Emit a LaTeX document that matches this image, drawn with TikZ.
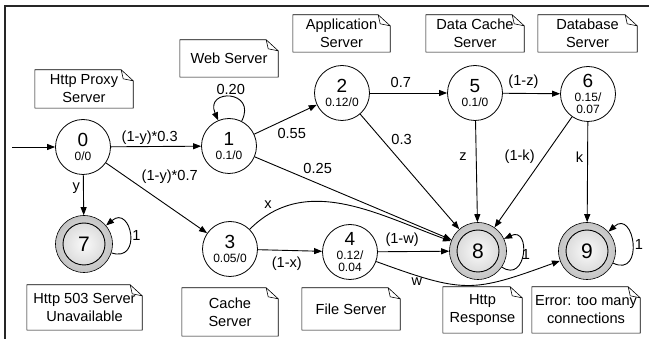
\documentclass[tikz,border=0pt]{standalone}
\usepackage{fontspec}
\setmainfont{Liberation Sans}
\usetikzlibrary{arrows.meta,positioning,calc}
\definecolor{framegray}{HTML}{262626}
\definecolor{ringgray}{HTML}{C4C4C4}

\newcommand{\bignum}{\fontsize{19}{19}\selectfont}
\newcommand{\bigfin}{\fontsize{21}{21}\selectfont}
\newcommand{\smallnum}{\fontsize{12}{13}\selectfont}

\tikzset{
  state/.style={circle, draw, line width=0.8pt, minimum size=55pt, inner sep=0pt, align=center},
  final/.style={circle, draw, line width=0.6pt, minimum size=57pt, inner sep=0pt,
    inner color=gray!15, outer color=ringgray,
    path picture={\shade[draw, line width=0.9pt, inner color=gray!4, outer color=gray!36]
      (path picture bounding box.center) circle (21pt);}},
  note/.style={minimum width=98pt, minimum height=37pt, inner sep=0pt, align=center,
    font=\fontsize{14.6}{18}\selectfont},
  notebox/.style={line width=0.6pt},
  trans/.style={-{Triangle[length=8pt,width=6pt]}, line width=0.9pt},
  lbl/.style={font=\fontsize{14.6}{16}\selectfont, inner sep=2pt},
}

\begin{document}
\begin{tikzpicture}[x=1pt, y=1pt]
    \useasboundingbox (0,0) rectangle (649,-339);
    \draw[line width=1.5pt, framegray] (5,-339) -- (5,-6) -- (649,-6);

    % states
    \node[state] (n0) at (83,-147) {\bignum 0\\[2pt]\smallnum 0/0};
    \node[state] (n1) at (229,-146) {\bignum 1\\[2pt]\smallnum 0.1/0};
    \node[state] (n2) at (342,-93) {\bignum 2\\[2pt]\smallnum 0.12/0};
    \node[state] (n5) at (475,-93) {\bignum 5\\[2pt]\smallnum 0.1/0};
    \node[state] (n6) at (588,-94) {\bignum 6\\[2pt]\smallnum 0.15/\\\smallnum 0.07};
    \node[state] (n3) at (230,-249) {\bignum 3\\[2pt]\smallnum 0.05/0};
    \node[state] (n4) at (350,-252) {\bignum 4\\[2pt]\smallnum 0.12/\\\smallnum 0.04};
    \node[final] (n7) at (84,-244) {\bigfin 7};
    \node[final] (n8) at (478,-251) {\bigfin 8};
    \node[final] (n9) at (587,-251) {\bigfin 9};

    % notes
    \node[note, minimum height=38pt] (tproxy) at (84,-89) {Http Proxy\\Server};
    \node[note] (tweb) at (229,-58.5) {Web Server};
    \node[note, minimum width=97pt] (tapp) at (341.5,-33.5) {Application\\Server};
    \node[note] (tdcache) at (475,-33.5) {Data Cache\\Server};
    \node[note, minimum width=99pt] (tdb) at (587.5,-33.5) {Database\\Server};
    \node[note, minimum width=115pt, minimum height=45pt] (t503) at (84.5,-307.5) {Http 503 Server\\Unavailable};
    \node[note, minimum width=96pt, minimum height=48pt] (tcache) at (230,-312) {Cache\\Server};
    \node[note, minimum height=42pt] (tfile) at (351,-309) {File Server};
    \node[note, minimum width=79pt, minimum height=46pt] (tresp) at (482.5,-310) {Http\\Response};
    \node[note, minimum width=108pt, minimum height=46pt] (terr) at (586,-310) {Error: too many\\connections};

    \foreach \t in {tproxy,tweb,tapp,tdcache,tdb,t503,tcache,tfile,tresp,terr}
        \draw[notebox] (\t.north west) -- ([xshift=-12pt]\t.north east)
            -- ([yshift=-11pt]\t.north east) -- (\t.south east) -- (\t.south west) -- cycle
            ([xshift=-12pt]\t.north east) -- ([xshift=-10pt,yshift=-9pt]\t.north east)
            -- ([yshift=-11pt]\t.north east);

    % transitions
    \coordinate (in0) at (12,-147);
    \draw[trans] (in0) -- (n0);
    \draw[trans] (n0) -- node[lbl, pos=0.43, above] {(1-y)*0.3} (n1);
    \draw[trans] (n0) -- node[lbl, pos=0.33, left=1pt] {y} (n7);
    \draw[trans] (n0) -- node[lbl, pos=0.3, above right, xshift=3pt, yshift=-2pt] {(1-y)*0.7} (n3);
    \draw[trans] (n1) to[out=63, in=113, distance=35pt] node[lbl, above] {0.20} (n1);
    \draw[trans] (n1) -- node[lbl, pos=0.6, below=9pt] {0.55} (n2);
    \draw[trans] (n1) -- node[lbl, pos=0.32, above=7pt] {0.25} (n8);
    \draw[trans] (n2) -- node[lbl, pos=0.4, above=3pt] {0.7} (n5);
    \draw[trans] (n2) -- node[lbl, pos=0.22, right=7pt] {0.3} (n8);
    \draw[trans] (n5) -- node[lbl, pos=0.36, above=2pt] {(1-z)} (n6);
    \draw[trans] (n5) -- node[lbl, pos=0.35, left=7pt] {z} (n8);
    \draw[trans] (n6) -- node[lbl, pos=0.36, left=7pt] {(1-k)} (n8);
    \draw[trans] (n6) -- node[lbl, pos=0.35, left=2pt] {k} (n9);
    \draw[trans] (n3) to[out=45, in=160] node[lbl, pos=0.14, above left] {x} (n8);
    \draw[trans] (n3) -- node[lbl, pos=0.45, below=4pt] {(1-x)} (n4);
    \draw[trans] (n4) -- node[lbl, pos=0.34, above=3pt] {(1-w)} (n8);
    \draw[trans] (n4) to[out=-20, in=200, looseness=1.3] node[lbl, pos=0.18, below] {w} (n9);
    \draw[trans] (n7) to[out=-18, in=40, distance=33pt] node[lbl, right] {1} (n7);
    \draw[trans] (n8) to[out=-34, in=25, distance=30pt] node[lbl, right=-3pt] {1} (n8);
    \draw[trans] (n9) to[out=-25, in=42, distance=35pt] node[lbl, right] {1} (n9);
\end{tikzpicture}
\end{document}
